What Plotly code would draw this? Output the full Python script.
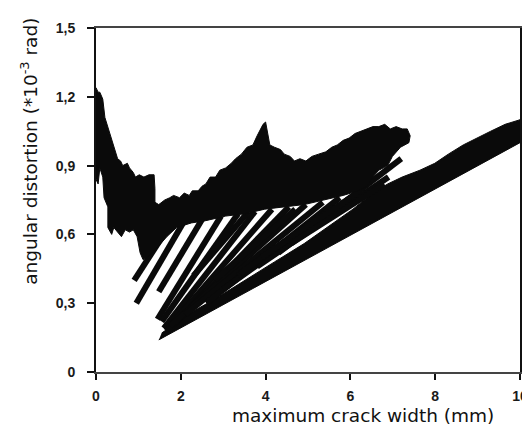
import plotly.graph_objects as go

# Upper envelope region (noisy test record), traced as outline: top edge then bottom edge
blob_x = [0.00, 0.05, 0.09, 0.16, 0.21, 0.28, 0.35, 0.42, 0.51, 0.58, 0.63, 0.74, 0.79, 0.88, 0.93,
          1.02, 1.13, 1.25, 1.37, 1.39, 1.39, 1.48, 1.62, 1.74, 1.83, 1.97, 2.08, 2.20, 2.27, 2.41,
          2.50, 2.59, 2.69, 2.82, 2.92, 3.06, 3.19, 3.29, 3.43, 3.56, 3.70, 3.80, 3.89, 3.94, 4.00,
          4.05, 4.10, 4.21, 4.35, 4.44, 4.58, 4.68, 4.81, 4.95, 5.09, 5.25, 5.42, 5.56, 5.69, 5.83,
          5.97, 6.11, 6.25, 6.39, 6.53, 6.67, 6.81, 6.94, 7.08, 7.22, 7.34, 7.41, 7.38,
          7.18, 6.99, 6.88, 6.67, 6.53, 6.39, 6.18, 5.83, 5.37, 4.91, 4.44, 3.98, 3.52, 3.06, 2.59,
          2.25, 1.90, 1.67, 1.48, 1.32, 1.20, 1.11, 1.04, 0.97, 0.88, 0.79, 0.69, 0.60, 0.51, 0.42,
          0.37, 0.28, 0.28, 0.19, 0.16, 0.09, 0.05, 0.00]
blob_y = [1.24, 1.22, 1.22, 1.19, 1.11, 1.07, 1.02, 0.99, 0.93, 0.92, 0.90, 0.91, 0.89, 0.87, 0.85,
          0.86, 0.85, 0.86, 0.86, 0.80, 0.74, 0.73, 0.75, 0.76, 0.77, 0.76, 0.78, 0.77, 0.79, 0.79,
          0.81, 0.82, 0.85, 0.85, 0.88, 0.89, 0.91, 0.93, 0.95, 0.98, 0.99, 1.03, 1.06, 1.08, 1.09,
          1.04, 0.99, 0.98, 0.97, 0.95, 0.94, 0.92, 0.93, 0.92, 0.94, 0.95, 0.96, 0.98, 0.99, 1.01,
          1.02, 1.04, 1.05, 1.06, 1.07, 1.07, 1.08, 1.06, 1.07, 1.06, 1.06, 1.03, 1.00,
          0.98, 0.94, 0.90, 0.88, 0.85, 0.81, 0.79, 0.77, 0.75, 0.73, 0.72, 0.71, 0.69, 0.68, 0.66,
          0.65, 0.63, 0.59, 0.55, 0.52, 0.50, 0.49, 0.52, 0.59, 0.62, 0.61, 0.62, 0.59, 0.61, 0.63,
          0.60, 0.63, 0.72, 0.76, 0.85, 0.89, 0.82, 0.84]

# Lowest bundle of reloading lines running to 10 mm
band_x = [1.48, 10.00, 10.00, 9.65, 9.31, 9.00, 8.66, 8.31, 7.99, 7.64, 7.22, 6.88, 6.53, 6.06,
          5.60, 4.91, 4.21, 3.52, 2.82, 2.25, 1.78, 1.55]
band_y = [0.14, 1.00, 1.10, 1.08, 1.05, 1.02, 0.99, 0.95, 0.91, 0.88, 0.85, 0.82, 0.78, 0.71,
          0.65, 0.56, 0.48, 0.40, 0.32, 0.26, 0.20, 0.17]

# Individual unloading/reloading branches (start -> end)
ray_x0 = [0.90, 0.95, 1.48, 1.45, 1.55, 1.60, 1.65, 1.70, 1.75, 2.10, 2.60, 3.00, 3.35, 3.80,
          4.30, 3.40, 2.30, 2.80, 3.90, 4.60]
ray_y0 = [0.40, 0.30, 0.35, 0.23, 0.22, 0.19, 0.18, 0.18, 0.20, 0.25, 0.30, 0.36, 0.42, 0.46,
          0.52, 0.43, 0.42, 0.40, 0.50, 0.56]
ray_x1 = [1.95, 2.15, 2.55, 2.95, 3.35, 3.75, 4.15, 4.55, 4.95, 5.35, 5.75, 6.15, 6.55, 6.90,
          7.20, 5.60, 3.60, 4.70, 6.00, 6.80]
ray_y1 = [0.70, 0.68, 0.68, 0.68, 0.69, 0.70, 0.71, 0.72, 0.73, 0.74, 0.76, 0.78, 0.80, 0.85,
          0.93, 0.72, 0.70, 0.71, 0.76, 0.82]

x_ticks = [0, 2, 4, 6, 8, 10]
x_tick_text = ["0", "2", "4", "6", "8", "10"]
y_ticks = [0, 0.3, 0.6, 0.9, 1.2, 1.5]
y_tick_text = ["0", "0,3", "0,6", "0,9", "1,2", "1,5"]

rx, ry = [], []
for a, b, c, d in zip(ray_x0, ray_y0, ray_x1, ray_y1):
    rx += [a, c, None]
    ry += [b, d, None]

ink = "#0a0a0a"
fig = go.Figure()
fig.add_trace(go.Scatter(x=band_x, y=band_y, fill="toself", fillcolor=ink,
                         mode="lines", line=dict(color=ink, width=1), hoverinfo="skip"))
fig.add_trace(go.Scatter(x=rx, y=ry, mode="lines", line=dict(color=ink, width=6),
                         hoverinfo="skip"))
fig.add_trace(go.Scatter(x=blob_x, y=blob_y, fill="toself", fillcolor=ink,
                         mode="lines", line=dict(color=ink, width=1), hoverinfo="skip"))

tickfont = dict(family="Liberation Sans, Arial, sans-serif", size=14, color="#1a1a1a",
                weight="bold")
fig.update_layout(
    width=530, height=430,
    margin=dict(l=88, r=10, t=20, b=66),
    paper_bgcolor="white", plot_bgcolor="white",
    showlegend=False,
    xaxis=dict(range=[0, 10], tickvals=x_ticks,
               ticktext=["<b>%s</b>" % t for t in x_tick_text],
               showgrid=False, zeroline=False, showline=True, linecolor="#444", linewidth=2,
               mirror=True, ticks="outside", ticklen=6, tickwidth=2, tickcolor="#111",
               tickfont=tickfont, ticklabelstandoff=4, ticklabeloverflow="allow"),
    yaxis=dict(range=[0, 1.5], tickvals=y_ticks,
               ticktext=["<b>%s</b>" % t for t in y_tick_text],
               showgrid=False, zeroline=False, showline=True, linecolor="#111", linewidth=2,
               mirror=True, ticks="outside", ticklen=7, tickwidth=2, tickcolor="#111",
               tickfont=tickfont, ticklabelstandoff=9, ticklabeloverflow="allow"),
    annotations=[
        dict(text="maximum crack width (mm)", xref="paper", yref="paper",
             x=0.63, y=-0.125, xanchor="center", yanchor="middle", showarrow=False,
             font=dict(family="DejaVu Sans, Verdana, sans-serif", size=18.5, color="#111")),
        dict(text="angular distortion (*10<sup>-3</sup> rad)", xref="paper", yref="paper",
             x=-0.158, y=0.64, xanchor="center", yanchor="middle", textangle=-90,
             showarrow=False,
             font=dict(family="DejaVu Sans, Verdana, sans-serif", size=18.5, color="#111")),
    ],
)
fig.write_html("out.html")
